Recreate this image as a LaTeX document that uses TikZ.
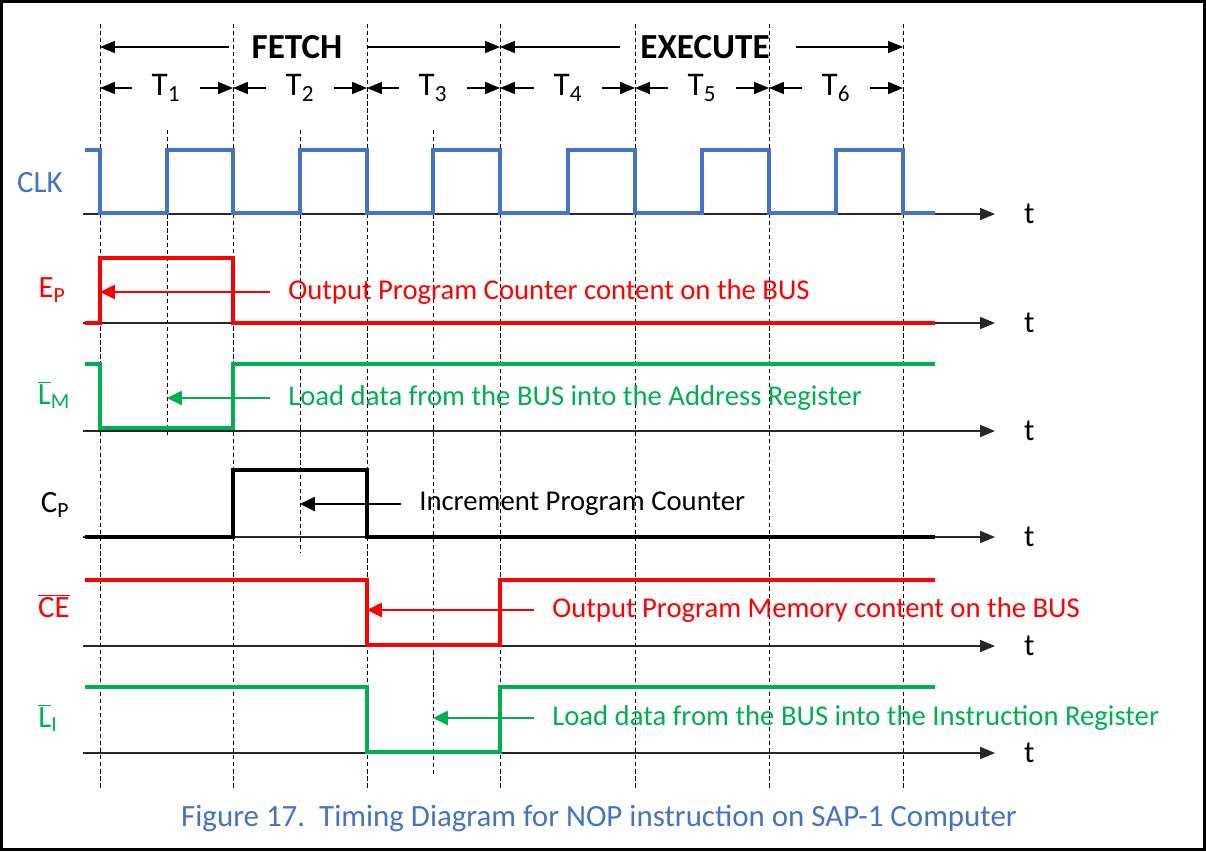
\documentclass[tikz,border=0pt]{standalone}
\usepackage{fontspec}
\setmainfont{Carlito}
\usetikzlibrary{arrows.meta,positioning}

\definecolor{clkblue}{HTML}{4472C4}
\definecolor{sigred}{HTML}{FF0000}
\definecolor{siggreen}{HTML}{00B050}

\tikzset{
	axis/.style={line width=0.9pt, draw=black!85, -{Triangle[length=10.5pt,width=8.5pt]}},
	wave/.style={line width=2.8pt},
	guide/.style={line width=0.7pt, dash pattern=on 3pt off 2pt},
	note/.style={line width=1.2pt, -{Triangle[length=10.5pt,width=10pt]}},
	dimarrow/.style={line width=0.8pt, -{Triangle[length=10.5pt,width=8.5pt]}},
	siglabel/.style={font=\fontsize{22}{26}\selectfont},
	notetext/.style={anchor=west, inner sep=0pt, font=\fontsize{20.4}{24}\selectfont},
	tlabel/.style={minimum width=1.675cm, inner sep=0pt, font=\fontsize{23.5}{28}\selectfont},
	phase/.style={inner sep=0pt, font=\fontsize{25}{30}\selectfont\bfseries},
	tmark/.style={right=17pt, font=\fontsize{22}{26}\selectfont}
}

\begin{document}
\begin{tikzpicture}[x=0.025cm, y=-0.025cm]
	\useasboundingbox (0,0) rectangle (1206,851);
	\draw[line width=2pt] (1.5,1.5) rectangle (1204.5,849.5);

	% Draw period boundaries
	\foreach \x [count=\i from 0] in {100,233,367,500,635,769,903}{
		\coordinate (b\i) at (\x,24);
		\draw[guide] (b\i) -- ++(0,766);
	}
	% half period marks
	\coordinate (m1) at (167,398);
	\coordinate (m2) at (300,504);
	\coordinate (m3) at (433,718);
	\draw[guide] (167,130) -- (167,435);
	\draw[guide] (300,130) -- (300,553);
	\draw[guide] (433,130) -- (433,775);

	% FETCH / EXECUTE
	\node[phase] (fetch) at (297,47) {FETCH};
	\draw[dimarrow] ([xshift=-0.55cm]fetch.west) -- (fetch.west -| b0);
	\draw[dimarrow] ([xshift=0.6cm]fetch.east) -- (fetch.east -| b3);
	\node[phase] (execute) at (705,47) {EXECUTE};
	\draw[dimarrow] ([xshift=-0.5cm]execute.west) -- (execute.west -| b3);
	\draw[dimarrow] ([xshift=0.65cm]execute.east) -- (execute.east -| b6);

	% T states
	\foreach \c [count=\i] in {166,300,433,568,702,836}{
		\pgfmathtruncatemacro\j{\i-1}
		\node[tlabel] (t\i) at (\c,88) {T\textsubscript{\i}};
		\draw[dimarrow] (t\i.west) -- (t\i.west -| b\j);
		\draw[dimarrow] (t\i.east) -- (t\i.east -| b\i);
	}

	% Draw axes
	\foreach \y in {214,323,431,537,646,753}{
		\draw[axis] (83,\y) -- (995,\y) node[tmark] {t};
	}

	% Waveforms
	\draw[wave, clkblue, line width=2.2pt] (85,150) -| (100,213) -| (167,150) -| (233,213) -| (300,150) -| (367,213) -| (433,150) -| (500,213) -| (568,150) -| (635,213) -| (702,150) -| (769,213) -| (836,150) -| (903,213) -- (935,213);
	\draw[wave, sigred] (85,323) -| (100,258) -| (233,323) -- (935,323);
	\draw[wave, siggreen] (85,364) -| (100,428) -| (233,364) -- (935,364);
	\draw[wave, black] (85,537) -| (233,470) -| (367,537) -- (935,537);
	\draw[wave, sigred] (85,580) -| (367,645) -| (500,580) -- (935,580);
	\draw[wave, siggreen] (85,687) -| (367,752) -| (500,687) -- (935,687);

	% Signal names
	\node[siglabel, clkblue] (clk) at (40,183) {CLK};
	\node[siglabel, sigred] (ep) at (52,290) {E\textsubscript{P}};
	\node[siglabel, siggreen] (lm) at (54,395) {$\overline{\hbox{L}}$\textsubscript{M}};
	\node[siglabel] (cp) at (55,505) {C\textsubscript{P}};
	\node[siglabel, sigred] (ce) at (54,606) {$\overline{\hbox{CE}}$};
	\node[siglabel, siggreen] (li) at (48,718) {$\overline{\hbox{L}}$\textsubscript{I}};

	% Notes
	\coordinate (epto) at (100,292);
	\coordinate (ceto) at (367,610);
	\node[notetext, sigred] (epnote) at (288,292) {Output Program Counter content on the BUS};
	\draw[note, sigred] ([xshift=-0.45cm]epnote.west) -- (epto);
	\node[notetext, siggreen] (lmnote) at (288,398) {Load data from the BUS into the Address Register};
	\draw[note, siggreen] ([xshift=-0.45cm]lmnote.west) -- (m1);
	\node[notetext] (cpnote) at (419,504) {Increment Program Counter};
	\draw[note] ([xshift=-0.45cm]cpnote.west) -- (m2);
	\node[notetext, sigred] (cenote) at (552,610) {Output Program Memory content on the BUS};
	\draw[note, sigred] ([xshift=-0.45cm]cenote.west) -- (ceto);
	\node[notetext, siggreen] (linote) at (552,718) {Load data from the BUS into the Instruction Register};
	\draw[note, siggreen] ([xshift=-0.45cm]linote.west) -- (m3);

	% Caption
	\node[font=\fontsize{22}{26}\selectfont, text=clkblue] (caption) at (599,818) {Figure 17.\ \ Timing Diagram for NOP instruction on SAP-1 Computer};
\end{tikzpicture}
\end{document}
